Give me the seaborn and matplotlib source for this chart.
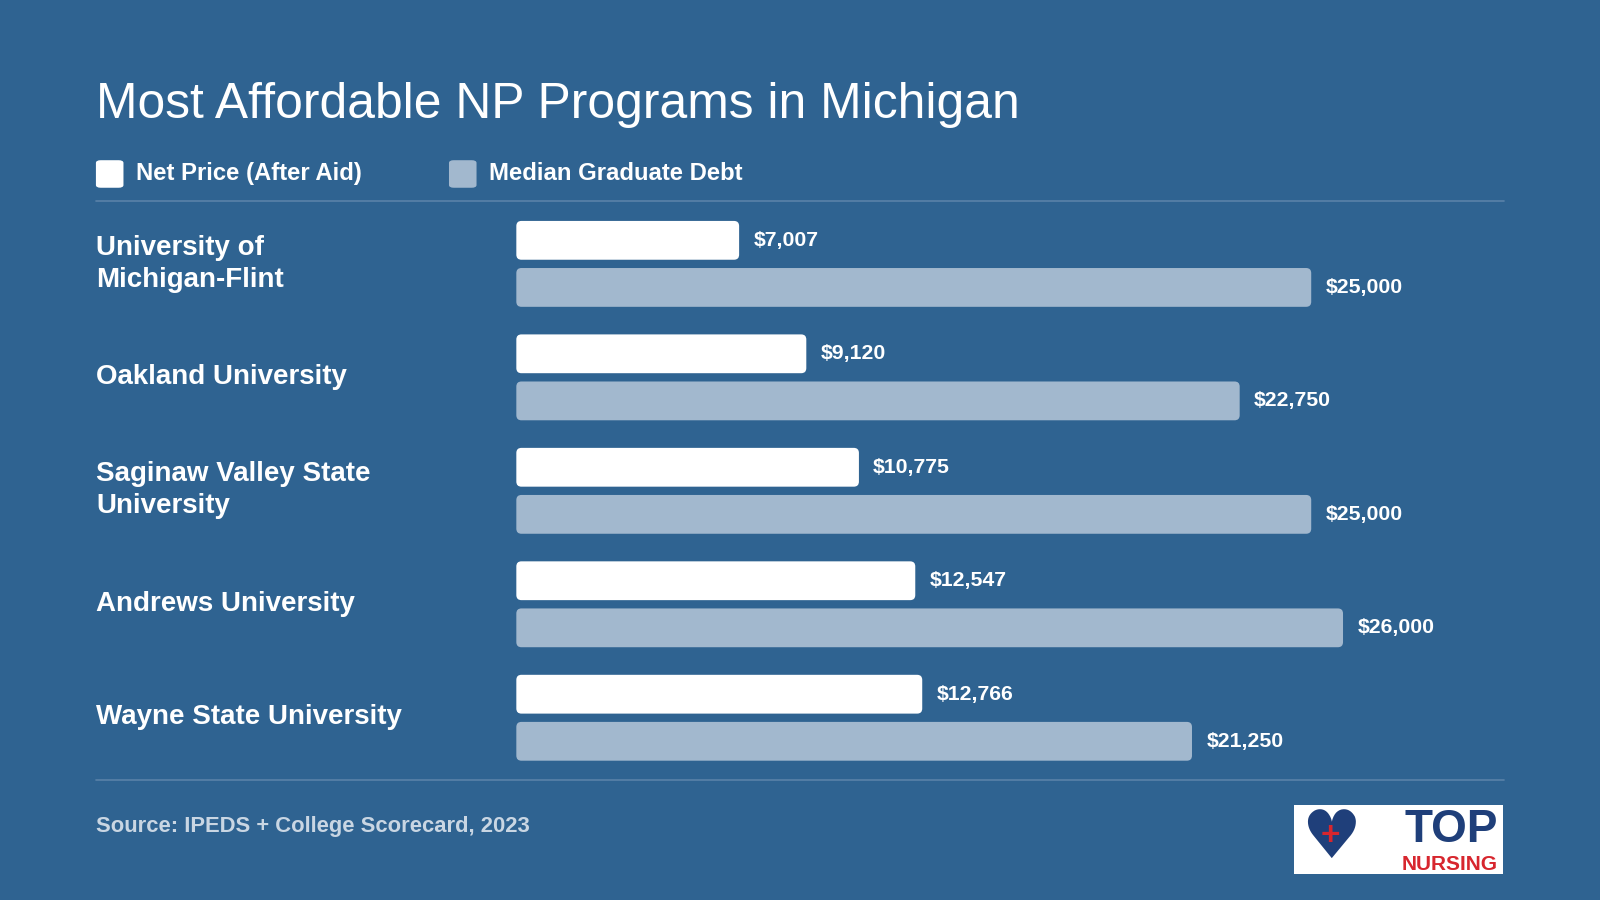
import matplotlib
matplotlib.use("Agg")
import matplotlib.pyplot as plt
import seaborn as sns
import pandas as pd
from matplotlib.patches import Rectangle, FancyBboxPatch

schools = ["University of\nMichigan-Flint", "Oakland University", "Saginaw Valley State\nUniversity",
           "Andrews University", "Wayne State University"]
net_price = [7007, 9120, 10775, 12547, 12766]
median_debt = [25000, 22750, 25000, 26000, 21250]
series = ["Net Price (After Aid)", "Median Graduate Debt"]

BG = "#2F6391"
WHITE = "#FFFFFF"
GRAY = "#A2B8CE"
LINE = "#5A82A8"

sns.set_theme(style="white")
plt.rcParams['font.family'] = ['Liberation Sans', 'DejaVu Sans']

W, H = 1568, 882
fig = plt.figure(figsize=(16, 9), dpi=100, facecolor=BG)
def fx(x): return x / W
def fy(y): return 1 - y / H

ax = fig.add_axes([fx(506), fy(759), fx(1474) - fx(506), fy(203) - fy(759)])
ax.set_facecolor(BG)

df = pd.DataFrame({
    "school": schools * 2,
    "value": net_price + median_debt,
    "series": [series[0]] * 5 + [series[1]] * 5,
})
sns.barplot(data=df, y="school", x="value", hue="series", orient="h",
            palette=[WHITE, GRAY], saturation=1, width=0.83, gap=0.176, dodge=True,
            legend=False, ax=ax, order=schools, hue_order=series, linewidth=0)

xmax = 968 / 779 * 25000
ax.set_xlim(0, xmax)
ax.set_ylim(4.5, -0.5)
ax.axis("off")

for p in list(ax.patches):
    x, y, w, h = p.get_x(), p.get_y(), p.get_width(), p.get_height()
    fc = p.get_facecolor()
    p.set_visible(False)
    r = 5
    ax.add_patch(FancyBboxPatch((x, y), w, h,
                                boxstyle=f"round,pad=0,rounding_size={r / 968 * xmax}",
                                mutation_aspect=(1 / 111) / (xmax / 968),
                                facecolor=fc, edgecolor="none"))
    ax.text(x + w + 14 / 968 * xmax, y + h / 2, f"${w:,.0f}", color=WHITE,
            fontsize=15.3, fontweight="bold", va="center", ha="left")

for i, s in enumerate(schools):
    fig.text(fx(94), fy(258.5 + 111 * i), s, color=WHITE, fontsize=20,
             fontweight="bold", va="center", ha="left", linespacing=1.3)

fig.text(fx(94), fy(103), "Most Affordable NP Programs in Michigan", color=WHITE,
         fontsize=35.8, va="center", ha="left")

for x0, col, lab in [(94, WHITE, series[0]), (440, GRAY, series[1])]:
    fig.patches.append(FancyBboxPatch((fx(x0), fy(184)), fx(27), fy(157) - fy(184),
                                      boxstyle="round,pad=0,rounding_size=0.003",
                                      transform=fig.transFigure, facecolor=col, edgecolor="none"))
    fig.text(fx(x0 + 39), fy(170), lab, color=WHITE, fontsize=17.2, fontweight="bold",
             va="center", ha="left")

for yy in (197, 764):
    fig.add_artist(plt.Line2D([fx(94), fx(1474)], [fy(yy), fy(yy)], color=LINE, lw=1.2,
                              transform=fig.transFigure))

fig.text(fx(94), fy(810), "Source: IPEDS + College Scorecard, 2023", color="#C9D6E3",
         fontsize=15.8, fontweight="bold", va="center", ha="left")

# Logo
fig.patches.append(Rectangle((fx(1268), fy(857)), fx(205), fy(789) - fy(857),
                             transform=fig.transFigure, facecolor=WHITE, edgecolor="none"))
fig.text(fx(1304), fy(822), "♥", color="#1F3F7A", fontsize=48, ha="center", va="center",
         family=['DejaVu Sans'])
fig.text(fx(1304), fy(820), "+", color="#D7262E", fontsize=24, fontweight="bold",
         ha="center", va="center")
fig.text(fx(1468), fy(813), "TOP", color="#1F3F7A", fontsize=33, fontweight="bold",
         ha="right", va="center")
fig.text(fx(1468), fy(847), "NURSING", color="#D7262E", fontsize=15, fontweight="bold",
         ha="right", va="center")

fig.savefig("out.png", dpi=100, facecolor=BG)
